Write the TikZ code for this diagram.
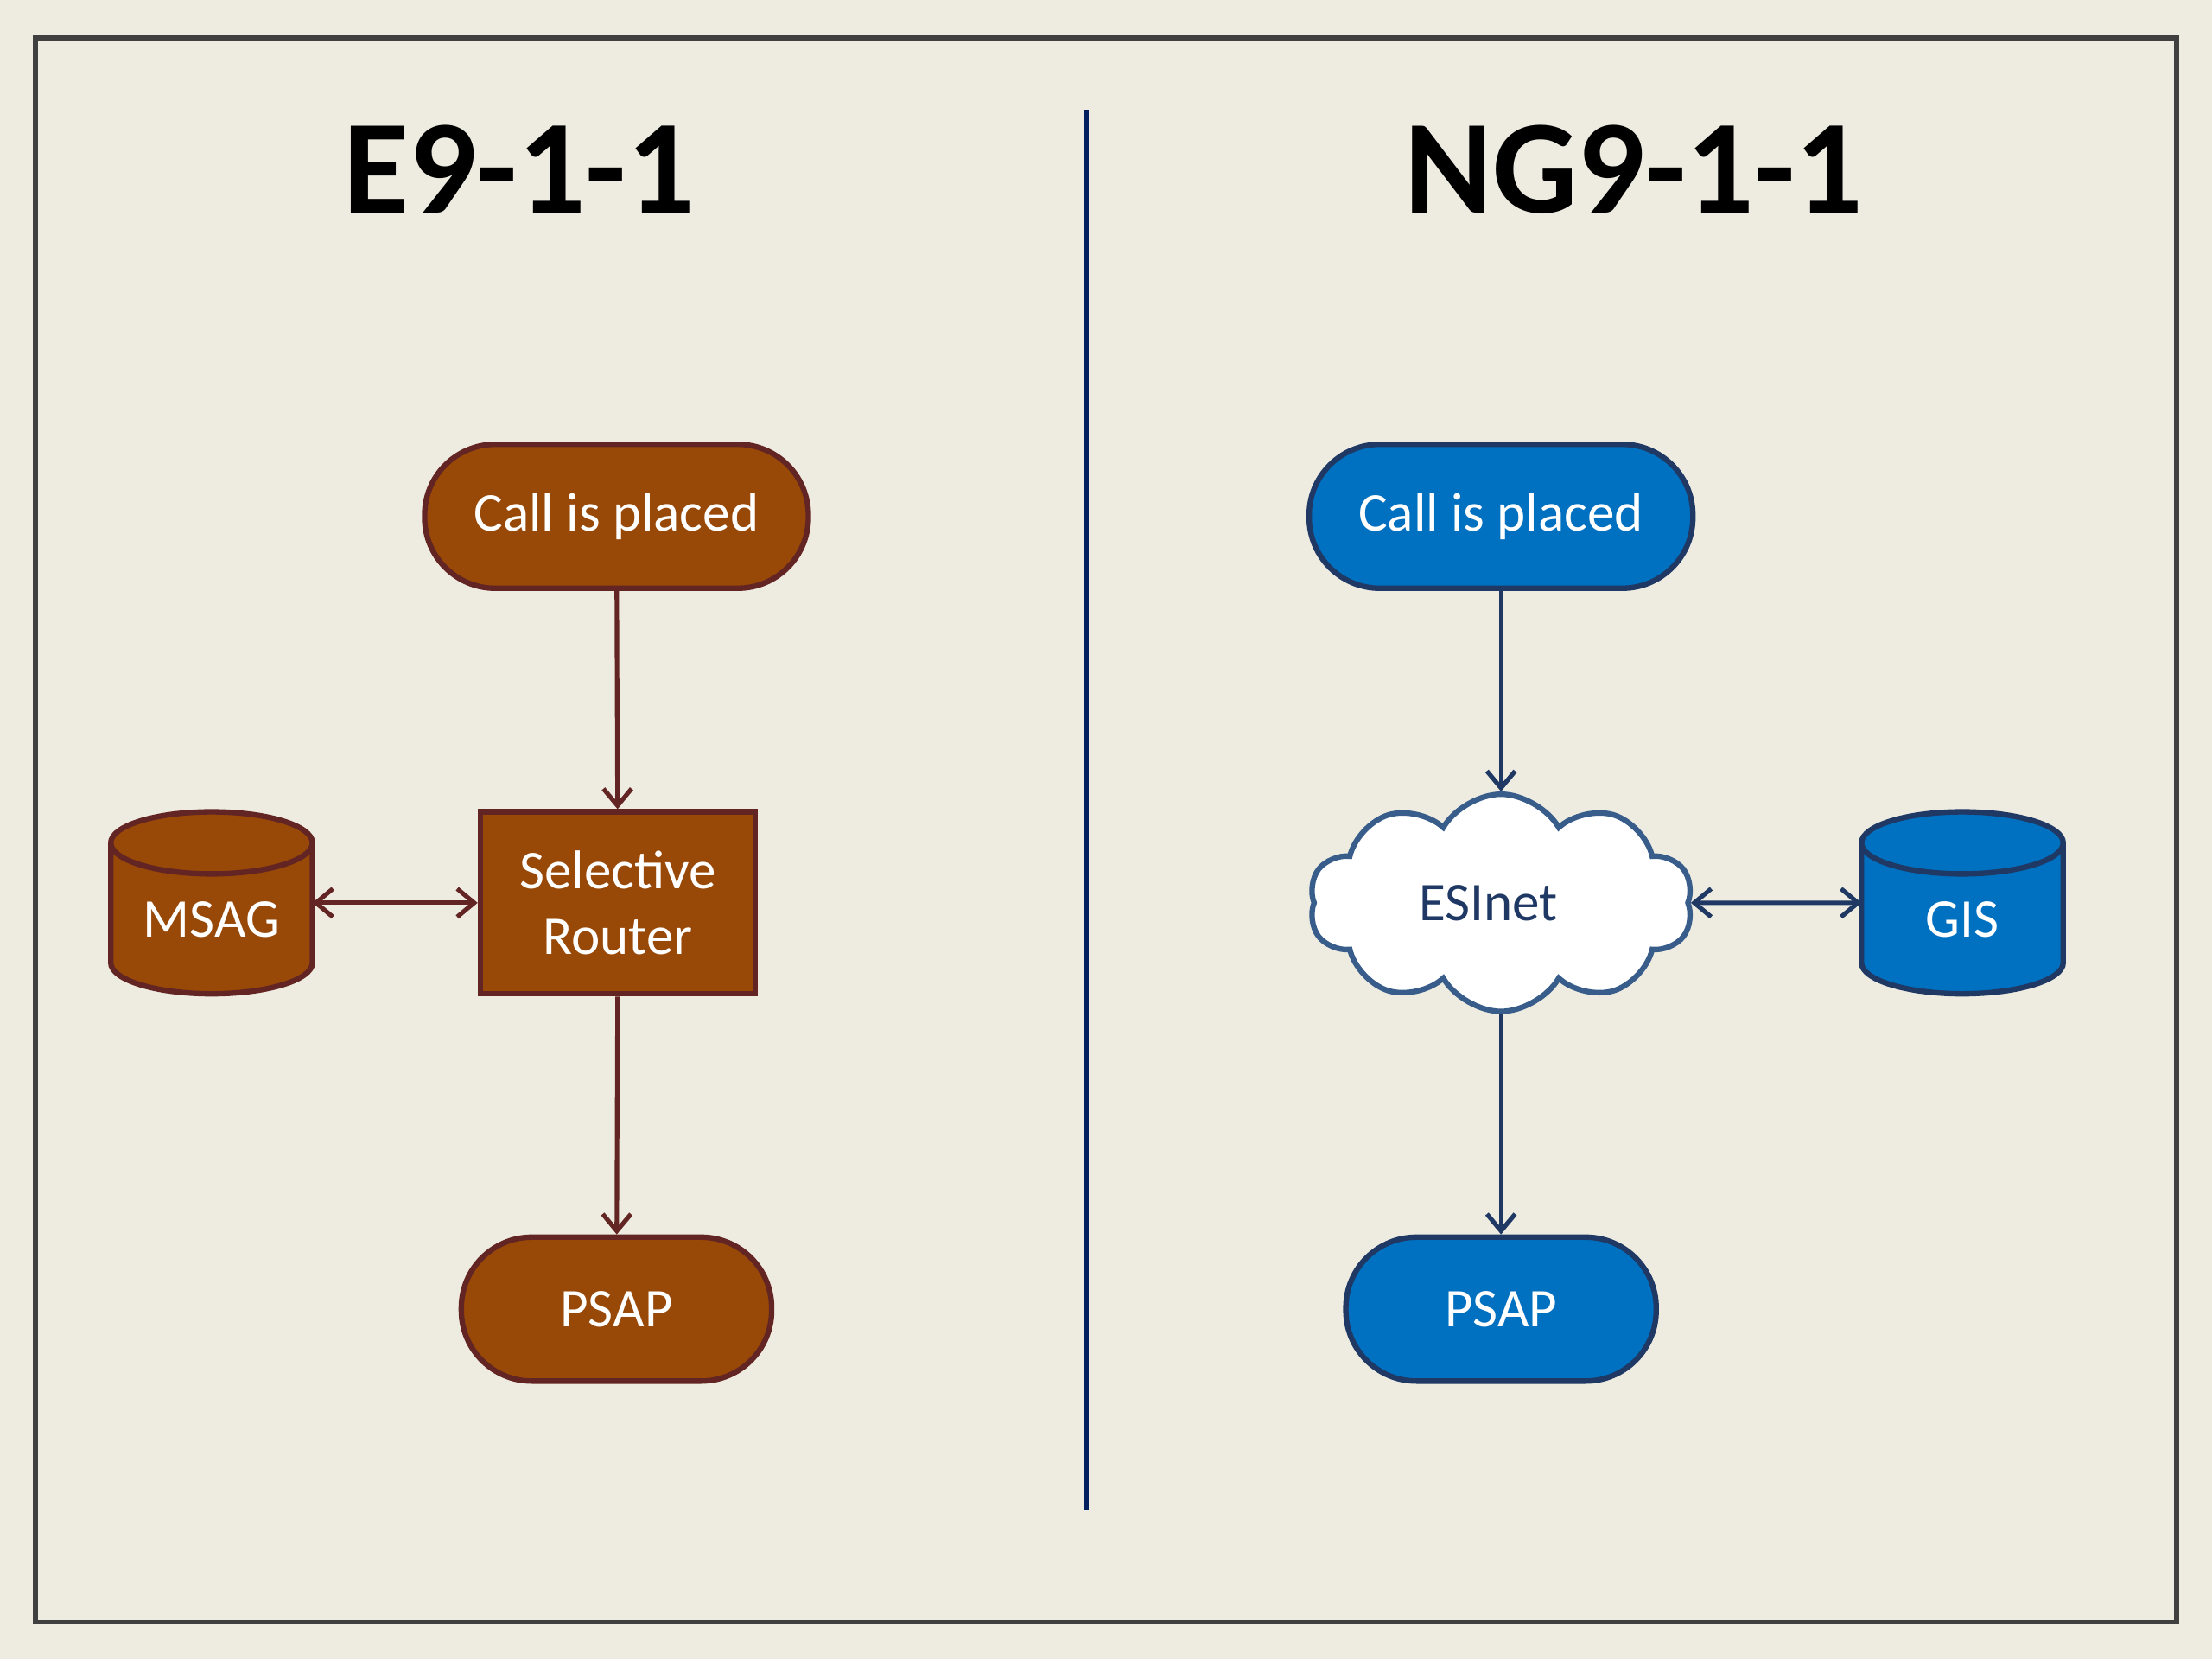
\documentclass[tikz,border=0pt]{standalone}
\usepackage{fontspec}
\setmainfont{Carlito}
\usetikzlibrary{shapes.symbols,arrows.meta}
\definecolor{paper}{HTML}{EEECE1}
\definecolor{framegray}{HTML}{404040}
\definecolor{divblue}{HTML}{002060}
\definecolor{oldfill}{HTML}{984807}
\definecolor{oldline}{HTML}{632523}
\definecolor{newfill}{HTML}{0070C0}
\definecolor{newline}{HTML}{1F3864}
\definecolor{cloudline}{HTML}{385D8A}
\begin{document}
\begin{tikzpicture}[
  every node/.style={font=\fontsize{11}{13.4}\selectfont, align=center, text=white, line width=1.1pt},
  title/.style={font=\fontsize{27}{32}\selectfont\bfseries, text=black},
  terminal/.style={rectangle, rounded corners=0.5cm, minimum width=2.72cm, minimum height=1.02cm},
  router/.style={rectangle, minimum width=1.95cm, minimum height=1.29cm},
  dbbox/.style={rectangle, inner sep=0pt, outer sep=0pt, text height=13.8pt, text depth=0pt, minimum width=1.43cm, minimum height=1.29cm},
  net/.style={cloud, cloud puffs=10, cloud puff arc=120, aspect=1.75, draw=cloudline, fill=white, text=newline, minimum width=2.72cm, minimum height=1.54cm},
  oldarrow/.style={draw=oldline, line width=0.9pt, -{Straight Barb[length=1.2mm,width=2.0mm]}},
  newarrow/.style={draw=newline, line width=0.9pt, -{Straight Barb[length=1.2mm,width=2.0mm]}}
]
% Drum outline round a named box: #1 node, #2 line colour, #3 fill colour
\def\drum#1#2#3{
  \draw[#2, fill=#3, line width=1.1pt] ([yshift=-0.22cm]#1.north west) -- ([yshift=0.22cm]#1.south west)
    arc[start angle=180, end angle=360, x radius=0.715cm, y radius=0.22cm]
    -- ([yshift=-0.22cm]#1.north east)
    arc[start angle=0, end angle=180, x radius=0.715cm, y radius=0.22cm] -- cycle;
  \draw[#2, line width=1.1pt] ([yshift=-0.22cm]#1.north west)
    arc[start angle=180, end angle=360, x radius=0.715cm, y radius=0.22cm];
}

% Canvas and frame
\fill[paper] (0,0) rectangle (15.68,11.76);
\draw[framegray, line width=1pt] (0.25,0.26) rectangle (15.43,11.49);
\draw[divblue, line width=1.1pt] (7.70,1.06) -- (7.70,10.98);

% Titles
\node[title] (oldtitle) at (3.68,10.56) {E9-1-1};
\node[title] (newtitle) at (11.58,10.56) {NG9-1-1};

% E9-1-1 side
\node[terminal, draw=oldline, fill=oldfill] (oldcall) at (4.37,8.10) {Call is placed};
\node[router, draw=oldline, fill=oldfill] (selrouter) at (4.38,5.36) {Selective\\Router};
\node[dbbox] (msag) at (1.50,5.36) {\phantom{MSAG}};
\drum{msag}{oldline}{oldfill}
\node[dbbox] (msagtext) at (msag) {MSAG};
\node[terminal, minimum width=2.20cm, draw=oldline, fill=oldfill] (oldpsap) at (4.37,2.48) {PSAP};
\draw[oldarrow] (oldcall) -- (selrouter);
\draw[oldarrow] (selrouter) -- (oldpsap);
\draw[oldarrow, {Straight Barb[length=1.2mm,width=2.0mm]}-{Straight Barb[length=1.2mm,width=2.0mm]}] (msag) -- (selrouter);

% NG9-1-1 side
\node[terminal, draw=newline, fill=newfill] (newcall) at (10.64,8.10) {Call is placed};
\node[net] (esinet) at (10.64,5.36) {ESInet\hspace{0.18cm}};
\node[dbbox] (gis) at (13.91,5.36) {\phantom{GIS}};
\drum{gis}{newline}{newfill}
\node[dbbox] (gistext) at (gis) {GIS};
\node[terminal, minimum width=2.20cm, draw=newline, fill=newfill] (newpsap) at (10.64,2.48) {PSAP};
\draw[newarrow] (newcall) -- (esinet);
\draw[newarrow] (esinet) -- (newpsap);
\draw[newarrow, {Straight Barb[length=1.2mm,width=2.0mm]}-{Straight Barb[length=1.2mm,width=2.0mm]}] (esinet) -- (gis);
\end{tikzpicture}
\end{document}
